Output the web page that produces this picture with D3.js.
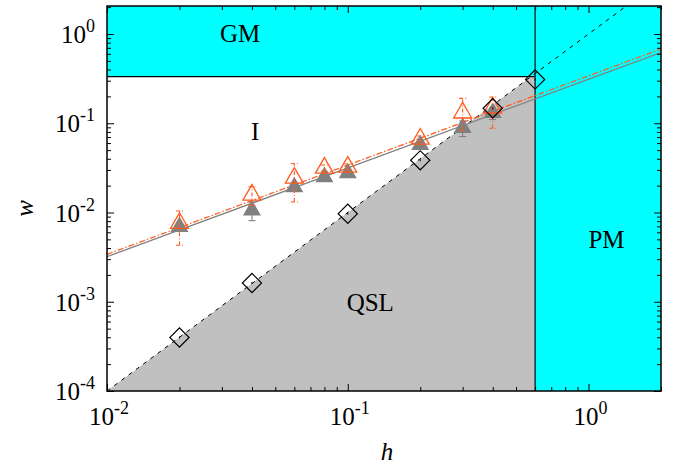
<!DOCTYPE html>
<html>
<head>
<meta charset="utf-8">
<script src="https://cdn.jsdelivr.net/npm/d3@7"></script>
<style>
  body { margin: 0; background: #fff; }
  text { font-family: "Liberation Serif", "Times New Roman", Times, serif; }
</style>
</head>
<body>
<div class="chart"></div>
<script>
// measured points (h, w)
const hTri = [0.02, 0.04, 0.06, 0.08, 0.1, 0.2, 0.3, 0.4]
const wOpen = [0.0076, 0.0157, 0.0244, 0.0315, 0.0324, 0.0668, 0.131, 0.149]
const wOpenLo = [0.0043, 0.012, 0.0131, 0.029, 0.030, 0.062, 0.083, 0.088]
const wOpenHi = [0.0104, 0.0194, 0.0354, 0.034, 0.035, 0.072, 0.19, 0.197]
const wFilled = [0.0069, 0.0106, 0.0193, 0.025, 0.0277, 0.0572, 0.0888, 0.131]
const wFilledLo = [0.0064, 0.0081, 0.018, 0.024, 0.026, 0.054, 0.071, 0.11]
const wFilledHi = [0.0074, 0.0131, 0.021, 0.026, 0.029, 0.060, 0.106, 0.15]
const hDiamond = [0.02, 0.04, 0.1, 0.2, 0.4, 0.6]
const wDiamond = [0.000398, 0.00162, 0.0097, 0.0384, 0.147, 0.31]

// fitted lines (end points)
const fitOpen = [[0.01, 0.0034], [2, 0.68]]
const fitFilled = [[0.01, 0.0032], [2, 0.62]]
const boundaryLine = [[0.01, 0.0001], [2, 4]]

// phase boundaries
const hPM = 0.6
const wGM = 0.333

const xTicks = [0.01, 0.1, 1]
const yTicks = [1e-4, 1e-3, 1e-2, 1e-1, 1]

const width = 675
const height = 466
const margin = { top: 6, right: 14, bottom: 75, left: 107 }
const iw = width - margin.left - margin.right
const ih = height - margin.top - margin.bottom

const x = d3.scaleLog().domain([0.01, 2]).range([0, iw])
const y = d3.scaleLog().domain([1e-4, 2.06]).range([ih, 0])

const orange = '#ff5a1e'
const grey = '#808080'
const cyan = '#00ffff'

const svg = d3
  .select('.chart')
  .append('svg')
  .attr('width', width)
  .attr('height', height)

svg.append('clipPath').attr('id', 'clip')
  .append('rect').attr('width', iw).attr('height', ih)

const g = svg.append('g').attr('transform', `translate(${margin.left},${margin.top})`)
const plot = g.append('g').attr('clip-path', 'url(#clip)')

// QSL region (under the h^2 line, left of PM)
plot.append('path')
  .attr('d', d3.line()([
    [x(0.01), y(1e-4)],
    [x(hPM), y(1e-4)],
    [x(hPM), y(hPM * hPM)],
  ]))
  .attr('fill', '#c0c0c0')

// GM region
plot.append('rect')
  .attr('x', 0).attr('y', 0)
  .attr('width', x(hPM)).attr('height', y(wGM))
  .attr('fill', cyan)
plot.append('line')
  .attr('x1', 0).attr('x2', x(hPM))
  .attr('y1', y(wGM)).attr('y2', y(wGM))
  .attr('stroke', '#000').attr('stroke-width', 1.2)

// PM region
plot.append('rect')
  .attr('x', x(hPM)).attr('y', 0)
  .attr('width', iw - x(hPM)).attr('height', ih)
  .attr('fill', cyan)
plot.append('line')
  .attr('x1', x(hPM)).attr('x2', x(hPM))
  .attr('y1', 0).attr('y2', ih)
  .attr('stroke', '#0a3a3a').attr('stroke-width', 1.5)

const line = d3.line().x(d => x(d[0])).y(d => y(d[1]))

plot.append('path')
  .attr('d', line(boundaryLine))
  .attr('fill', 'none').attr('stroke', '#000')
  .attr('stroke-width', 1).attr('stroke-dasharray', '4,5')

plot.append('path')
  .attr('d', line(fitFilled))
  .attr('fill', 'none').attr('stroke', grey).attr('stroke-width', 1.3)

plot.append('path')
  .attr('d', line(fitOpen))
  .attr('fill', 'none').attr('stroke', orange)
  .attr('stroke-width', 1.2).attr('stroke-dasharray', '6,2,1.5,2')

// error bars
const errorBars = (lo, hi, color, dash) => {
  const eg = plot.append('g').attr('stroke', color).attr('stroke-width', 1.1)
    .attr('stroke-dasharray', dash)
  hTri.forEach((h, i) => {
    const cx = x(h)
    eg.append('line').attr('x1', cx).attr('x2', cx)
      .attr('y1', y(lo[i])).attr('y2', y(hi[i]))
    ;[lo[i], hi[i]].forEach(v => {
      eg.append('line').attr('x1', cx - 3.5).attr('x2', cx + 3.5)
        .attr('y1', y(v)).attr('y2', y(v)).attr('stroke-dasharray', null)
    })
  })
}
errorBars(wFilledLo, wFilledHi, grey, null)

const tri = d3.symbol().type(d3.symbolTriangle).size(140)

plot.selectAll('.filled')
  .data(hTri.map((h, i) => [h, wFilled[i]]))
  .join('path')
  .attr('class', 'filled')
  .attr('d', tri)
  .attr('transform', d => `translate(${x(d[0])},${y(d[1])})`)
  .attr('fill', grey)

errorBars(wOpenLo, wOpenHi, orange, '4,2,1,2')

plot.selectAll('.open')
  .data(hTri.map((h, i) => [h, wOpen[i]]))
  .join('path')
  .attr('class', 'open')
  .attr('d', tri)
  .attr('transform', d => `translate(${x(d[0])},${y(d[1])})`)
  .attr('fill', 'none')
  .attr('stroke', orange)
  .attr('stroke-width', 1.3)

const diamond = d3.symbol().type(d3.symbolSquare).size(185)
const dia = plot.selectAll('.dia')
  .data(hDiamond.map((h, i) => [h, wDiamond[i]]))
  .join('g')
  .attr('class', 'dia')
  .attr('transform', d => `translate(${x(d[0])},${y(d[1])})`)
dia.append('path')
  .attr('d', diamond)
  .attr('transform', 'rotate(45)')
  .attr('fill', 'none')
  .attr('stroke', '#000')
  .attr('stroke-width', 1.2)
dia.append('line')
  .attr('x1', 0).attr('x2', 0).attr('y1', -1).attr('y2', 1)
  .attr('stroke', '#000').attr('stroke-width', 1)

// region labels
const labels = [
  { t: 'GM', h: 0.0357, w: 0.82 },
  { t: 'I', h: 0.0412, w: 0.0644 },
  { t: 'QSL', h: 0.124, w: 0.00079 },
  { t: 'PM', h: 1.188, w: 0.00404 },
]
g.selectAll('.region')
  .data(labels)
  .join('text')
  .attr('class', 'region')
  .attr('x', d => x(d.h))
  .attr('y', d => y(d.w))
  .attr('text-anchor', 'middle')
  .attr('font-size', 25)
  .text(d => d.t)

// axes: inward ticks on all four sides
const minorX = x.ticks().filter(v => !xTicks.includes(v))
const minorY = y.ticks().filter(v => !yTicks.some(t => Math.abs(t - v) / v < 1e-6))

const addAxis = (axis, tr) => {
  const a = g.append('g').attr('transform', tr).call(axis)
  a.select('.domain').remove()
  a.selectAll('text').remove()
  a.selectAll('line').attr('stroke', '#000').attr('stroke-width', 1)
}
addAxis(d3.axisBottom(x).tickValues(xTicks).tickSize(-7), `translate(0,${ih})`)
addAxis(d3.axisBottom(x).tickValues(minorX).tickSize(-4), `translate(0,${ih})`)
addAxis(d3.axisTop(x).tickValues(xTicks).tickSize(-7), 'translate(0,0)')
addAxis(d3.axisTop(x).tickValues(minorX).tickSize(-4), 'translate(0,0)')
addAxis(d3.axisLeft(y).tickValues(yTicks).tickSize(-7), 'translate(0,0)')
addAxis(d3.axisLeft(y).tickValues(minorY).tickSize(-4), 'translate(0,0)')
addAxis(d3.axisRight(y).tickValues(yTicks).tickSize(-7), `translate(${iw},0)`)
addAxis(d3.axisRight(y).tickValues(minorY).tickSize(-4), `translate(${iw},0)`)

g.append('rect')
  .attr('width', iw).attr('height', ih)
  .attr('fill', 'none').attr('stroke', '#000').attr('stroke-width', 1.5)

// tick labels as 10 with superscript exponent
const powLabel = (sel, v) => {
  sel.append('tspan').text('10')
  sel.append('tspan').attr('dy', -11).attr('font-size', 18).text(Math.round(Math.log10(v)))
}

xTicks.forEach(v => {
  const t = g.append('text')
    .attr('x', x(v) + 2)
    .attr('y', ih + 34)
    .attr('text-anchor', 'middle')
    .attr('font-size', 25)
  powLabel(t, v)
})

yTicks.forEach(v => {
  const t = g.append('text')
    .attr('x', -12)
    .attr('y', y(v) + 9)
    .attr('text-anchor', 'end')
    .attr('font-size', 25)
  powLabel(t, v)
})

g.append('text')
  .attr('x', iw / 2 + 3)
  .attr('y', ih + 69)
  .attr('text-anchor', 'middle')
  .attr('font-size', 25)
  .attr('font-style', 'italic')
  .text('h')

g.append('text')
  .attr('transform', `translate(-74,${ih / 2 + 10}) rotate(-90)`)
  .attr('text-anchor', 'middle')
  .attr('font-size', 25)
  .attr('font-style', 'italic')
  .text('w')
</script>
</body>
</html>
